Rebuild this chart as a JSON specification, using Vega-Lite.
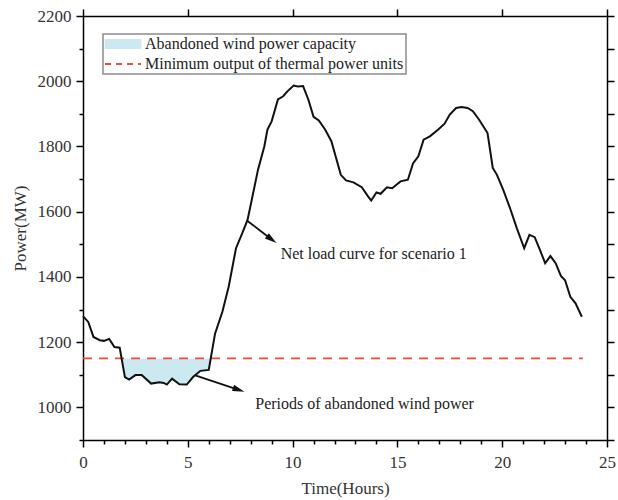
{
  "$schema": "https://vega.github.io/schema/vega-lite/v6.json",
  "width": 524,
  "height": 424,
  "autosize": {"type": "none"},
  "padding": {"left": 83, "top": 16, "right": 11, "bottom": 60},
  "config": {
    "view": {"stroke": null},
    "font": "Liberation Serif",
    "axis": {
      "domainColor": "#000", "domainWidth": 1.5, "tickColor": "#000", "tickWidth": 1.5,
      "labelFont": "Liberation Serif", "labelFontSize": 17, "labelColor": "#333",
      "titleFont": "Liberation Serif", "titleFontSize": 17, "titleFontWeight": "normal", "titleColor": "#333",
      "grid": false, "labelFlush": false, "labelOverlap": false
    }
  },
  "datasets": {
    "curve": [
      {"t": 0, "p": 1280}, {"t": 0.25, "p": 1262}, {"t": 0.5, "p": 1216}, {"t": 0.8, "p": 1206},
      {"t": 1.0, "p": 1204}, {"t": 1.25, "p": 1210}, {"t": 1.5, "p": 1185}, {"t": 1.75, "p": 1183},
      {"t": 2.0, "p": 1093}, {"t": 2.2, "p": 1085}, {"t": 2.5, "p": 1099}, {"t": 2.8, "p": 1099},
      {"t": 3.25, "p": 1073}, {"t": 3.65, "p": 1077}, {"t": 3.85, "p": 1075}, {"t": 4.0, "p": 1070},
      {"t": 4.25, "p": 1088}, {"t": 4.6, "p": 1071}, {"t": 4.95, "p": 1070}, {"t": 5.25, "p": 1093},
      {"t": 5.6, "p": 1112}, {"t": 6.0, "p": 1115}, {"t": 6.3, "p": 1226}, {"t": 6.65, "p": 1293},
      {"t": 6.95, "p": 1370}, {"t": 7.3, "p": 1488}, {"t": 7.6, "p": 1534}, {"t": 7.85, "p": 1575},
      {"t": 8.05, "p": 1636}, {"t": 8.35, "p": 1729}, {"t": 8.65, "p": 1800}, {"t": 8.8, "p": 1852},
      {"t": 9.0, "p": 1877}, {"t": 9.3, "p": 1944}, {"t": 9.55, "p": 1954}, {"t": 9.75, "p": 1969},
      {"t": 10.05, "p": 1987}, {"t": 10.25, "p": 1984}, {"t": 10.5, "p": 1985}, {"t": 10.75, "p": 1944},
      {"t": 11.0, "p": 1891}, {"t": 11.25, "p": 1880}, {"t": 11.55, "p": 1852}, {"t": 11.85, "p": 1816},
      {"t": 12.3, "p": 1713}, {"t": 12.55, "p": 1696}, {"t": 12.9, "p": 1690}, {"t": 13.3, "p": 1675},
      {"t": 13.6, "p": 1647}, {"t": 13.75, "p": 1634}, {"t": 14.0, "p": 1659}, {"t": 14.2, "p": 1655},
      {"t": 14.5, "p": 1675}, {"t": 14.75, "p": 1672}, {"t": 15.15, "p": 1693}, {"t": 15.5, "p": 1698},
      {"t": 15.75, "p": 1749}, {"t": 16.0, "p": 1770}, {"t": 16.25, "p": 1821}, {"t": 16.55, "p": 1831},
      {"t": 16.95, "p": 1852}, {"t": 17.25, "p": 1870}, {"t": 17.5, "p": 1898}, {"t": 17.8, "p": 1918},
      {"t": 18.05, "p": 1921}, {"t": 18.35, "p": 1918}, {"t": 18.6, "p": 1908}, {"t": 18.9, "p": 1882},
      {"t": 19.3, "p": 1841}, {"t": 19.55, "p": 1734}, {"t": 19.75, "p": 1713}, {"t": 20.05, "p": 1667},
      {"t": 20.4, "p": 1606}, {"t": 20.7, "p": 1549}, {"t": 21.05, "p": 1488}, {"t": 21.3, "p": 1529},
      {"t": 21.55, "p": 1522}, {"t": 21.8, "p": 1483}, {"t": 22.05, "p": 1442}, {"t": 22.3, "p": 1464},
      {"t": 22.55, "p": 1442}, {"t": 22.8, "p": 1403}, {"t": 23.0, "p": 1390}, {"t": 23.25, "p": 1339},
      {"t": 23.5, "p": 1319}, {"t": 23.8, "p": 1278}
    ],
    "fill": [
      {"t": 1.84, "p": 1150}, {"t": 2.0, "p": 1093}, {"t": 2.2, "p": 1085}, {"t": 2.5, "p": 1099},
      {"t": 2.8, "p": 1099}, {"t": 3.25, "p": 1073}, {"t": 3.65, "p": 1077}, {"t": 3.85, "p": 1075},
      {"t": 4.0, "p": 1070}, {"t": 4.25, "p": 1088}, {"t": 4.6, "p": 1071}, {"t": 4.95, "p": 1070},
      {"t": 5.25, "p": 1093}, {"t": 5.6, "p": 1112}, {"t": 6.0, "p": 1115}, {"t": 6.09, "p": 1150}
    ],
    "arrows": [
      {"id": "a", "t": 7.8, "p": 1574}, {"id": "a", "t": 9.0, "p": 1515},
      {"id": "b", "t": 5.32, "p": 1099}, {"id": "b", "t": 7.43, "p": 1054}
    ],
    "notes": [
      {"t": 9.43, "p": 1470, "label": "Net load curve for scenario 1"},
      {"t": 8.22, "p": 1010, "label": "Periods of abandoned wind power"}
    ]
  },
  "layer": [
    {
      "layer": [
        {
          "data": {"name": "fill"},
          "mark": {"type": "area"},
          "encoding": {
            "x": {"field": "t", "type": "quantitative",
              "scale": {"domain": [0, 25], "nice": false, "zero": false},
              "axis": {"orient": "bottom", "values": [0, 5, 10, 15, 20, 25], "format": "d",
                "tickSize": 7, "labelPadding": 7, "title": "Time(Hours)", "titlePadding": 10}},
            "y": {"field": "p", "type": "quantitative",
              "scale": {"domain": [900, 2200], "nice": false, "zero": false},
              "axis": {"orient": "left", "values": [1000, 1200, 1400, 1600, 1800, 2000, 2200], "format": "d",
                "tickSize": 7, "labelPadding": 5, "title": "Power(MW)", "titlePadding": 8}},
            "y2": {"datum": 1150},
            "color": {"datum": "Abandoned wind power capacity", "type": "nominal",
              "scale": {"domain": ["Abandoned wind power capacity", "Minimum output of thermal power units"], "range": ["#cce9f1", "#ef4b3d"]},
              "legend": {
                "title": null, "orient": "none", "legendX": 20, "legendY": 18, "direction": "vertical",
                "padding": 2, "strokeColor": "#8c8c8c", "fillColor": "#ffffff",
                "symbolSize": 400, "symbolOffset": 10, "rowPadding": 4,
                "labelFont": "Liberation Serif", "labelFontSize": 16, "labelColor": "#222", "labelOffset": 14, "labelLimit": 400,
                "encode": {
                  "legend": {"update": {"strokeWidth": {"value": 1.5}}},
                  "symbols": {"update": {
                  "shape": {"signal": "datum.value === 'Abandoned wind power capacity' ? 'M-1.8,-0.45H1.8V0.45H-1.8Z' : 'M-1.8,0H1.8'"},
                  "fill": {"signal": "datum.value === 'Abandoned wind power capacity' ? '#cce9f1' : 'transparent'"},
                  "stroke": {"signal": "datum.value === 'Abandoned wind power capacity' ? '#b4d3dc' : '#ef4b3d'"},
                  "strokeWidth": {"signal": "datum.value === 'Abandoned wind power capacity' ? 1 : 2"},
                  "strokeDash": {"signal": "datum.value === 'Abandoned wind power capacity' ? [1, 0] : [6, 5]"},
                  "opacity": {"value": 1}
                }}}
              }}
          }
        },
        {
          "data": {"values": [{"level": 1150}]},
          "mark": {"type": "rule", "strokeDash": [9, 7], "strokeWidth": 1.8},
          "encoding": {
            "x": {"datum": 0, "type": "quantitative"},
            "x2": {"datum": 23.85},
            "y": {"field": "level", "type": "quantitative"},
            "color": {"datum": "Minimum output of thermal power units", "type": "nominal"}
          }
        },
        {
          "data": {"name": "curve"},
          "mark": {"type": "line", "color": "#111", "strokeWidth": 2},
          "encoding": {
            "x": {"field": "t", "type": "quantitative"},
            "y": {"field": "p", "type": "quantitative"}
          }
        },
        {
          "data": {"name": "arrows"},
          "mark": {"type": "line", "color": "#111", "strokeWidth": 1.8},
          "encoding": {
            "x": {"field": "t", "type": "quantitative"},
            "y": {"field": "p", "type": "quantitative"},
            "detail": {"field": "id"}
          }
        },
        {
          "data": {"values": [{"t": 9.0, "p": 1515}]},
          "mark": {"type": "point", "shape": "M1,0L-1,-0.55L-1,0.55Z", "size": 144, "filled": true, "color": "#111", "opacity": 1, "angle": 37},
          "encoding": {
            "x": {"field": "t", "type": "quantitative"},
            "y": {"field": "p", "type": "quantitative"}
          }
        },
        {
          "data": {"values": [{"t": 7.43, "p": 1054}]},
          "mark": {"type": "point", "shape": "M1,0L-1,-0.55L-1,0.55Z", "size": 144, "filled": true, "color": "#111", "opacity": 1, "angle": 18.5},
          "encoding": {
            "x": {"field": "t", "type": "quantitative"},
            "y": {"field": "p", "type": "quantitative"}
          }
        },
        {
          "data": {"name": "notes"},
          "mark": {"type": "text", "align": "left", "baseline": "middle", "font": "Liberation Serif", "fontSize": 16, "color": "#222"},
          "encoding": {
            "x": {"field": "t", "type": "quantitative"},
            "y": {"field": "p", "type": "quantitative"},
            "text": {"field": "label"}
          }
        }
      ]
    },
    {
      "data": {"name": "curve"},
      "mark": {"type": "line", "opacity": 0},
      "encoding": {
        "x": {"field": "t", "type": "quantitative",
          "scale": {"domain": [0, 25], "nice": false, "zero": false},
          "axis": {"orient": "top", "values": [0,5,10,15,20,25], "labels": false, "title": null, "tickSize": 7,
            "encode": {"ticks": {"update": {"y2": {"value": 7}}}}}},
        "y": {"field": "p", "type": "quantitative",
          "scale": {"domain": [900, 2200], "nice": false, "zero": false},
          "axis": {"orient": "right", "values": [900,1000,1100,1200,1300,1400,1500,1600,1700,1800,1900,2000,2100,2200],
            "labels": false, "title": null, "tickSize": 7,
            "encode": {"ticks": {"update": {"x2": {"signal": "datum.value % 200 === 0 ? -7 : -4"}}}}}}
      }
    },
    {
      "data": {"name": "curve"},
      "mark": {"type": "line", "opacity": 0},
      "encoding": {
        "x": {"field": "t", "type": "quantitative",
          "scale": {"domain": [0, 25], "nice": false, "zero": false},
          "axis": {"orient": "bottom", "values": [1,2,3,4,6,7,8,9,11,12,13,14,16,17,18,19,21,22,23,24],
            "labels": false, "title": null, "domain": false, "tickSize": 4}},
        "y": {"field": "p", "type": "quantitative",
          "scale": {"domain": [900, 2200], "nice": false, "zero": false},
          "axis": {"orient": "left", "values": [900,1100,1300,1500,1700,1900,2100],
            "labels": false, "title": null, "domain": false, "tickSize": 4}}
      }
    }
  ],
  "resolve": {"axis": {"x": "independent", "y": "independent"}}
}
